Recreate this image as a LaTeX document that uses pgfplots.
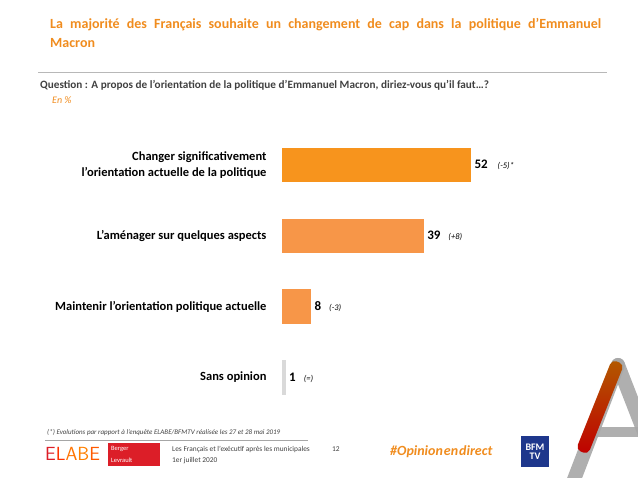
\documentclass[border=0pt]{standalone}
\usepackage{pgfplots}
\pgfplotsset{compat=1.18}
\usepackage{fontspec}
\setmainfont{Carlito}
\definecolor{titleorange}{RGB}{240,140,30}
\definecolor{barA}{RGB}{247,148,29}
\definecolor{barB}{RGB}{247,150,72}
\definecolor{barC}{RGB}{217,217,217}
\definecolor{qgray}{RGB}{64,64,64}
\definecolor{agray}{RGB}{166,166,166}
\definecolor{bfmblue}{RGB}{30,55,140}
\definecolor{blred}{RGB}{220,30,40}
\begin{document}
\begin{tikzpicture}[x=1pt,y=1pt]
\path[use as bounding box] (0,0) rectangle (638,478);
% title
\node[anchor=north west, inner sep=0, text width=551pt, align=justify,
  font=\fontsize{14}{19}\selectfont\bfseries, text=titleorange] at (50,478-18)
  {La majorité des Français souhaite un changement de cap dans la politique d’Emmanuel\linebreak Macron};
\draw[agray!80, line width=0.8pt] (38,478-72) -- (607,478-72);
\node[anchor=base west, inner sep=0, font=\fontsize{11.2}{13}\selectfont\bfseries, text=qgray] at (40,478-89)
  {Question : A propos de l’orientation de la politique d’Emmanuel Macron, diriez-vous qu’il faut…?};
\node[anchor=base west, inner sep=0, font=\fontsize{10}{11}\selectfont\itshape, text=titleorange] at (52,478-104) {En \%};
% footer
\node[anchor=base west, inner sep=0, font=\fontsize{7}{8}\selectfont\itshape, text=qgray] at (47,478-435)
  {(*) Evolutions par rapport à l’enquête ELABE/BFMTV réalisée les 27 et 28 mai 2019};
\draw[agray, line width=0.6pt] (45,478-440) -- (308,478-440);
\node[anchor=base west, inner sep=0, font=\fontsize{19}{20}\selectfont\sffamily] at (45,478-461)
  {\textcolor{blred}{E}\textcolor{red!60!orange}{L}\textcolor{orange!90!red}{A}\textcolor{orange}{B}\textcolor{orange!70!red}{E}};
\fill[blred] (108,478-466) rectangle (160,478-443);
\node[anchor=base west, inner sep=0, font=\fontsize{6.5}{8}\selectfont, text=white] at (111,478-451) {Berger};
\node[anchor=base west, inner sep=0, font=\fontsize{6.5}{8}\selectfont, text=white] at (111,478-462.5) {Levrault};
\node[anchor=base west, inner sep=0, font=\fontsize{7.4}{8}\selectfont, text=qgray] at (172,478-452) {Les Français et l’exécutif après les municipales};
\node[anchor=base west, inner sep=0, font=\fontsize{7.4}{8}\selectfont, text=qgray] at (172,478-463) {1er juillet 2020};
\node[anchor=base west, inner sep=0, font=\fontsize{7.4}{8}\selectfont, text=qgray] at (332,478-452) {12};
\node[anchor=base west, inner sep=0, font=\fontsize{14}{15}\selectfont\bfseries\itshape, text=titleorange] at (390,478-456) {\#Opinion\hspace{1pt}en\hspace{1pt}direct};
\fill[bfmblue] (521,478-467) rectangle (549,478-436);
\node[anchor=center, inner sep=0, align=center, font=\fontsize{10}{9}\selectfont\bfseries, text=white] at (535,478-451.5) {BFM\\TV};
% A logo
\begin{scope}
\clip (0,0) rectangle (638,478);
\draw[agray, line width=14pt, line cap=round, opacity=0.9] (618,478-365) -- (570,478-490);
\draw[agray, line width=14pt, line cap=round, opacity=0.9] (618,478-365) -- (662,478-478);
\draw[agray, line width=10pt, opacity=0.9] (590,478-432) -- (645,478-432);
\shade[top color=orange!70!black, middle color=orange, bottom color=red!75!black, rounded corners=5pt]
  (624.04,113.59) -- (611.96,118.41) -- (575.96,28.41) -- (588.04,23.59) -- cycle;
\end{scope}
% chart
\begin{axis}[at={(282pt,65.15pt)}, anchor=south west, scale only axis,
  width=218.1pt, height=283.2pt, xmin=0, xmax=60, ymin=-0.5, ymax=3.5,
  xbar, bar width=34.6pt, bar shift=0pt,
  axis line style={draw=none}, xtick=\empty,
  ytick={0,1,2,3},
  yticklabels={Sans opinion, Maintenir l’orientation politique actuelle, L’aménager sur quelques aspects, {Changer significativement\\l’orientation actuelle de la politique}},
  yticklabel style={align=right, font=\fontsize{12.5}{16}\selectfont\bfseries, text=black, xshift=-12pt},
  major tick length=0pt, clip=false, point meta=x,
  /pgf/number format/assume math mode=true,
  every node near coord/.append style={font=\fontsize{13}{15}\selectfont\bfseries, text=black},
  ]
\addplot[fill=barA, draw=none, nodes near coords={\pgfmathprintnumber\pgfplotspointmeta\hspace{10pt}{\fontsize{8.5}{10}\selectfont\mdseries\itshape (-5)*}}] coordinates {(52,3)};
\addplot[fill=barB, draw=none, nodes near coords={\pgfmathprintnumber\pgfplotspointmeta\hspace{8pt}{\fontsize{8.5}{10}\selectfont\mdseries\itshape (+8)}}] coordinates {(39,2)};
\addplot[fill=barB, draw=none, nodes near coords={\pgfmathprintnumber\pgfplotspointmeta\hspace{8pt}{\fontsize{8.5}{10}\selectfont\mdseries\itshape (-3)}}] coordinates {(8,1)};
\addplot[fill=barC, draw=none, nodes near coords={\pgfmathprintnumber\pgfplotspointmeta\hspace{8pt}{\fontsize{8.5}{10}\selectfont\mdseries\itshape (=)}}] coordinates {(1,0)};
\end{axis}
\end{tikzpicture}
\end{document}
